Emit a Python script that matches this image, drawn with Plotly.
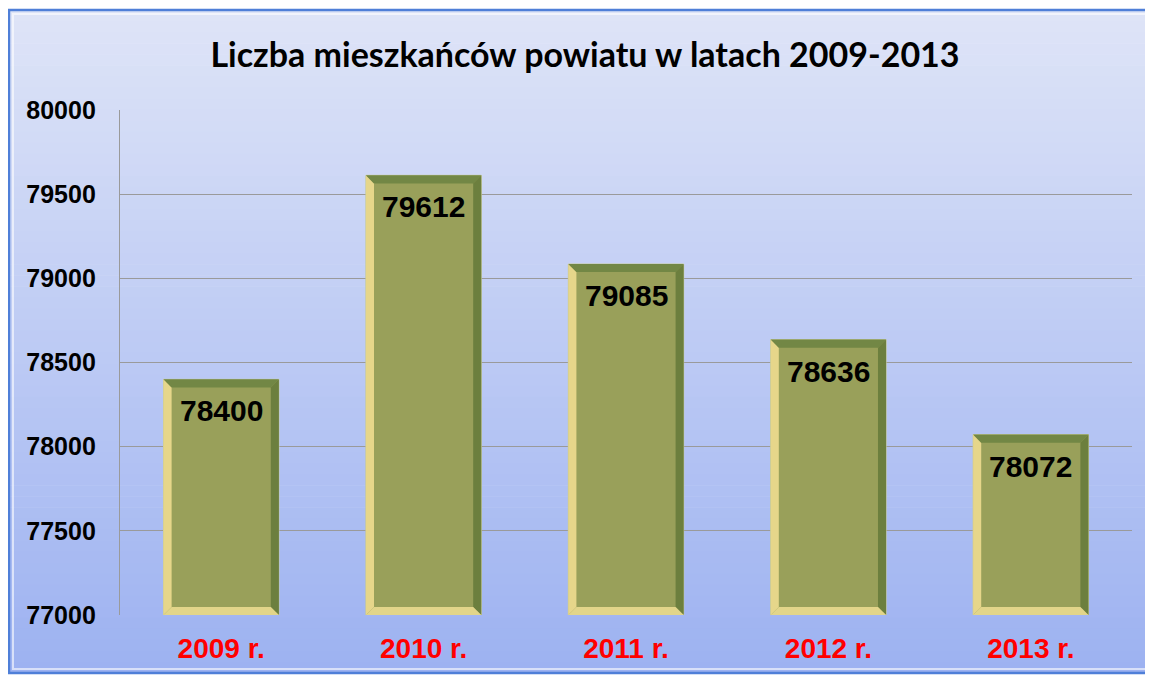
import plotly.graph_objects as go

# data
years = ["2009 r.", "2010 r.", "2011 r.", "2012 r.", "2013 r."]
population = [78400, 79612, 79085, 78636, 78072]
y_ticks = [77000, 77500, 78000, 78500, 79000, 79500, 80000]

# page has an 8px body margin, so the figure is sized/offset for that
OFF = 8
W, H = 1153 - OFF, 677 - OFF
L, R, T, B = 120 - OFF, 21, 110 - OFF, 62
y_min, y_max = 77000, 80000
bar_w = 0.57

x_pos = list(range(len(years)))


def px_x(p):
    # page pixel -> paper x
    return (p - OFF - L) / (W - L - R)


def px_y(p):
    # page pixel -> paper y
    return 1 - (p - OFF - T) / (H - T - B)


def mix(c1, c2, t):
    return "rgb({},{},{})".format(*[round(a + (b - a) * t) for a, b in zip(c1, c2)])


shapes = []

# gradient background of the frame
top_c, bot_c = (222, 228, 247), (157, 178, 241)
n = 60
y_a, y_b = 10, 673
for i in range(n):
    p0 = y_a + (y_b - y_a) * i / n
    p1 = y_a + (y_b - y_a) * (i + 1) / n + 0.6
    shapes.append(dict(type="rect", xref="paper", yref="paper", layer="below",
                       x0=px_x(9), x1=px_x(1160), y0=px_y(p0), y1=px_y(p1),
                       fillcolor=mix(top_c, bot_c, i / (n - 1)), line_width=0))
# frame border
shapes.append(dict(type="rect", xref="paper", yref="paper", layer="below",
                   x0=px_x(9), x1=px_x(1160), y0=px_y(673), y1=px_y(10),
                   line=dict(color="#4f7fd8", width=2.5), fillcolor="rgba(0,0,0,0)"))
shapes.append(dict(type="rect", xref="paper", yref="paper", layer="below",
                   x0=px_x(13), x1=px_x(1160), y0=px_y(669), y1=px_y(14),
                   line=dict(color="rgba(255,255,255,0.6)", width=2), fillcolor="rgba(0,0,0,0)"))

# bevel edges of the bars
bx = 0.04
by = 48
for x, v in zip(x_pos, population):
    x0, x1 = x - bar_w / 2, x + bar_w / 2
    b0 = y_min
    sides = [
        ([(x0, b0), (x0, v), (x0 + bx, v - by), (x0 + bx, b0 + by)], "#e6d68a"),
        ([(x0, v), (x1, v), (x1 - bx, v - by), (x0 + bx, v - by)], "#728745"),
        ([(x1, v), (x1, b0), (x1 - bx, b0 + by), (x1 - bx, v - by)], "#6c7f3e"),
        ([(x0, b0), (x1, b0), (x1 - bx, b0 + by), (x0 + bx, b0 + by)], "#e2d58a"),
    ]
    for pts, col in sides:
        path = "M " + " L ".join(f"{a},{b}" for a, b in pts) + " Z"
        shapes.append(dict(type="path", xref="x", yref="y", path=path,
                           fillcolor=col, line_width=0, layer="above"))

fig = go.Figure()
fig.add_trace(go.Bar(
    x=x_pos, y=[v - y_min for v in population], base=y_min, width=bar_w,
    marker=dict(color="#99a05a", line=dict(color="#c8cc9a", width=1)),
    hoverinfo="skip",
))

# value labels near the top of each bar
annotations = [
    dict(x=x, y=v, xref="x", yref="y", text=f"<b>{v}</b>", showarrow=False,
         yanchor="top", yshift=-13,
         font=dict(family="Liberation Sans", size=30, color="black"))
    for x, v in zip(x_pos, population)
]

fig.update_layout(
    width=W, height=H,
    margin=dict(l=L, r=R, t=T, b=B),
    paper_bgcolor="white", plot_bgcolor="rgba(0,0,0,0)",
    showlegend=False,
    title=dict(text="<b>Liczba mieszkańców powiatu w latach 2009-2013</b>",
               x=(585 - OFF) / W, xanchor="center",
               y=1 - (55 - OFF) / H, yanchor="middle",
               font=dict(family="Lato", size=34, color="black")),
    xaxis=dict(range=[-0.5, len(years) - 0.5], tickvals=x_pos, ticktext=years,
               showgrid=False, zeroline=False, showline=False, ticks="",
               tickfont=dict(family="Liberation Sans", size=28, color="#ff0000", weight="bold"),
               ticklabelstandoff=14),
    yaxis=dict(range=[y_min, y_max], tickvals=y_ticks, ticktext=[str(t) for t in y_ticks],
               showgrid=True, gridcolor="#9a9a9a", gridwidth=1.3,
               showline=True, linecolor="#9a9a9a", linewidth=1.3, zeroline=False,
               ticks="", tickfont=dict(family="Liberation Sans", size=25, color="black", weight="bold"),
               ticklabelstandoff=18),
    annotations=annotations,
    shapes=shapes,
)

fig.write_html("out.html")
